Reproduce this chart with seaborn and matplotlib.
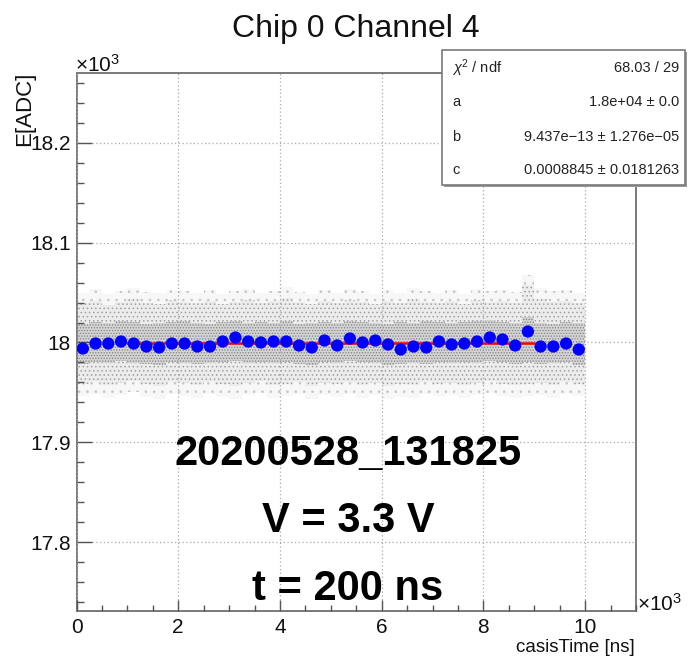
import matplotlib
matplotlib.use("Agg")
import matplotlib.pyplot as plt
import seaborn as sns
import pandas as pd
from matplotlib.ticker import MultipleLocator, FuncFormatter
from matplotlib.patches import Rectangle

# ---------------- data ----------------
title = "Chip 0 Channel 4"
x_label = "casisTime [ns]"
y_label = "E[ADC]"

# profile points (bin centres in ns, mean E in ADC)
bin_centers = [125, 375, 625, 875, 1125, 1375, 1625, 1875, 2125, 2375,
               2625, 2875, 3125, 3375, 3625, 3875, 4125, 4375, 4625, 4875,
               5125, 5375, 5625, 5875, 6125, 6375, 6625, 6875, 7125, 7375,
               7625, 7875, 8125, 8375, 8625, 8875, 9125, 9375, 9625, 9875]
profile_means = [17994, 17999, 17999, 18001, 17999, 17996, 17995, 17999, 17999, 17996,
                 17996, 18001, 18005, 18001, 18000, 18001, 18001, 17997, 17995, 18002,
                 17997, 18004, 18000, 18002, 17998, 17993, 17996, 17995, 18001, 17998,
                 17999, 18001, 18005, 18003, 17997, 18011, 17996, 17996, 17999, 17993]

# envelope of the raw event cloud per bin (ADC)
cloud_fringe_hi = [18050, 18054, 18049, 18052, 18055, 18051, 18050, 18053, 18052, 18050,
                   18053, 18049, 18052, 18054, 18050, 18052, 18056, 18051, 18049, 18053,
                   18050, 18054, 18052, 18049, 18053, 18050, 18055, 18052, 18050, 18053,
                   18049, 18054, 18052, 18053, 18051, 18068, 18055, 18052, 18053, 18050]
cloud_fringe_lo = [17946, 17948, 17944, 17947, 17950, 17945, 17943, 17948, 17946, 17944,
                   17948, 17945, 17943, 17947, 17949, 17944, 17946, 17948, 17943, 17947,
                   17945, 17948, 17944, 17947, 17943, 17945, 17944, 17948, 17946, 17947,
                   17944, 17947, 17949, 17946, 17944, 17946, 17947, 17944, 17948, 17946]
cloud_outer_hi = [18040, 18042, 18038, 18041, 18044, 18040, 18039, 18043, 18041, 18040,
                  18042, 18039, 18041, 18043, 18040, 18042, 18045, 18041, 18039, 18042,
                  18040, 18043, 18041, 18039, 18042, 18040, 18044, 18041, 18040, 18042,
                  18039, 18043, 18041, 18042, 18040, 18058, 18044, 18041, 18042, 18040]
cloud_outer_lo = [17958, 17960, 17957, 17959, 17961, 17958, 17956, 17960, 17959, 17957,
                  17960, 17958, 17956, 17959, 17961, 17957, 17958, 17960, 17956, 17959,
                  17958, 17960, 17957, 17959, 17956, 17958, 17957, 17960, 17958, 17959,
                  17957, 17959, 17961, 17958, 17957, 17958, 17959, 17957, 17960, 17958]
cloud_core_hi = [18019, 18021, 18020, 18022, 18021, 18019, 18020, 18021, 18022, 18020,
                 18019, 18021, 18022, 18020, 18021, 18020, 18022, 18019, 18020, 18021,
                 18020, 18022, 18021, 18020, 18019, 18021, 18020, 18022, 18021, 18020,
                 18021, 18022, 18023, 18021, 18020, 18026, 18020, 18019, 18021, 18020]
cloud_core_lo = [17978, 17980, 17979, 17981, 17979, 17978, 17977, 17980, 17979, 17978,
                 17979, 17980, 17981, 17979, 17980, 17979, 17980, 17978, 17977, 17980,
                 17979, 17981, 17980, 17979, 17977, 17978, 17979, 17978, 17980, 17979,
                 17980, 17979, 17981, 17980, 17978, 17980, 17978, 17979, 17980, 17977]

# fit line (constant ~ a)
fit_x = [1000, 9000]
fit_y = [17999.7, 17999.7]

stats_rows = [(r"$\chi^{2}$ / ndf", "68.03 / 29"),
              ("a", "1.8e+04 \u00b1 0.0"),
              ("b", "9.437e\u221213 \u00b1 1.276e\u221205"),
              ("c", "0.0008845 \u00b1 0.0181263")]
info_lines = ["20200528_131825", "V = 3.3 V", "t = 200 ns"]

# ---------------- style ----------------
sns.set_theme(style="white")
plt.rcParams["font.family"] = ["Liberation Sans", "DejaVu Sans"]
plt.rcParams["mathtext.fontset"] = "custom"
plt.rcParams["mathtext.rm"] = "Liberation Sans"
plt.rcParams["mathtext.it"] = "Liberation Sans:italic"
plt.rcParams["hatch.linewidth"] = 0.6

W, H = 688, 660
fig = plt.figure(figsize=(W / 100, H / 100), dpi=100)
ax_l, ax_r, ax_t, ax_b = 76.5, 636, 73, 611
ax = fig.add_axes([ax_l / W, 1 - ax_b / H, (ax_r - ax_l) / W, (ax_b - ax_t) / H])

# cloud envelope as stepped bands
half = 125
edges = [c - half for c in bin_centers] + [bin_centers[-1] + half]
def ext(a):
    return list(a) + [a[-1]]
ax.fill_between(edges, ext(cloud_fringe_lo), ext(cloud_fringe_hi), step="post",
                facecolor="#f7f7f7", edgecolor="#c4c4c4", hatch="..", linewidth=0, zorder=0.9)
ax.fill_between(edges, ext(cloud_outer_lo), ext(cloud_outer_hi), step="post",
                facecolor="#ececec", edgecolor="#a0a0a0", hatch="....", linewidth=0, zorder=1)
ax.fill_between(edges, ext(cloud_core_lo), ext(cloud_core_hi), step="post",
                facecolor="#d4d4d4", edgecolor="#828282", hatch="......", linewidth=0, zorder=1.1)

# axes ranges / grid
ax.set_xlim(0, 11000)
ax.set_ylim(17731, 18270)
ax.xaxis.set_major_locator(MultipleLocator(2000))
ax.xaxis.set_minor_locator(MultipleLocator(500))
ax.yaxis.set_major_locator(MultipleLocator(100))
ax.yaxis.set_minor_locator(MultipleLocator(20))
ax.grid(which="major", linestyle=(0, (1, 2)), color="#aaaaaa", linewidth=0.9)
ax.set_axisbelow(False)
for gl in ax.get_xgridlines() + ax.get_ygridlines():
    gl.set_zorder(1.5)

# fit line and profile
sns.lineplot(x=fit_x, y=fit_y, ax=ax, color="red", linewidth=1.8, zorder=3)
df = pd.DataFrame({"t": bin_centers, "E": profile_means})
sns.scatterplot(data=df, x="t", y="E", ax=ax, color="#0000ff", s=78, marker="o",
                edgecolor="none", zorder=4)

ax.set_xlabel("")
ax.set_ylabel("")
ax.xaxis.set_major_formatter(FuncFormatter(lambda v, p: f"{v/1000:g}"))
ax.yaxis.set_major_formatter(FuncFormatter(lambda v, p: f"{v/1000:g}"))
ax.tick_params(axis="both", which="both", direction="in", colors="#555555",
               labelcolor="#111111", labelsize=15, top=False, right=False,
               bottom=True, left=True)
ax.tick_params(axis="x", which="major", length=8, width=1.0, pad=5)
ax.tick_params(axis="x", which="minor", length=4, width=1.0)
ax.tick_params(axis="y", which="major", length=11, width=1.0, pad=4)
ax.tick_params(axis="y", which="minor", length=5, width=1.0)
for s in ax.spines.values():
    s.set_color("#7a7a7a")
    s.set_linewidth(1.4)
    s.set_visible(True)

# texts
fig.text(356 / W, 1 - 37 / H, title, ha="center", va="baseline", fontsize=23, color="#111111")
fig.text(25 / W, 1 - 72 / H, y_label, rotation=90, ha="center", va="top", fontsize=16, color="#111111")
fig.text(635 / W, 1 - 648 / H, x_label, ha="right", va="center", fontsize=13.5, color="#111111")
fig.text(75 / W, 1 - 72 / H, "\u00d710$^{3}$", ha="left", va="baseline", fontsize=15, color="#111111")
fig.text(637 / W, 1 - 611 / H, "\u00d710$^{3}$", ha="left", va="baseline", fontsize=15, color="#111111")

for line, yb in zip(info_lines, [465, 532, 600]):
    fig.text(348 / W, 1 - yb / H, line, ha="center", va="baseline", fontsize=30,
             fontweight="bold", color="black", zorder=10)

# stats box
bx0, by0, bx1, by1 = 441.7, 50, 685, 185
fig.patches.append(Rectangle((bx0 / W + 2 / W, 1 - by1 / H - 2 / H), (bx1 - bx0) / W, (by1 - by0) / H,
                             transform=fig.transFigure, facecolor="#9a9a9a", edgecolor="none", zorder=5))
fig.patches.append(Rectangle((bx0 / W, 1 - by1 / H), (bx1 - bx0) / W, (by1 - by0) / H,
                             transform=fig.transFigure, facecolor="white", edgecolor="#7a7a7a",
                             linewidth=1.2, zorder=6))
for (lab, val), yc in zip(stats_rows, [68, 102, 137, 170]):
    fig.text(452 / W, 1 - yc / H, lab, ha="left", va="center", fontsize=10.5, color="#222222", zorder=7)
    fig.text(679 / W, 1 - yc / H, val, ha="right", va="center", fontsize=10.5, color="#222222", zorder=7)

fig.savefig("out.png", dpi=100, facecolor="white")
